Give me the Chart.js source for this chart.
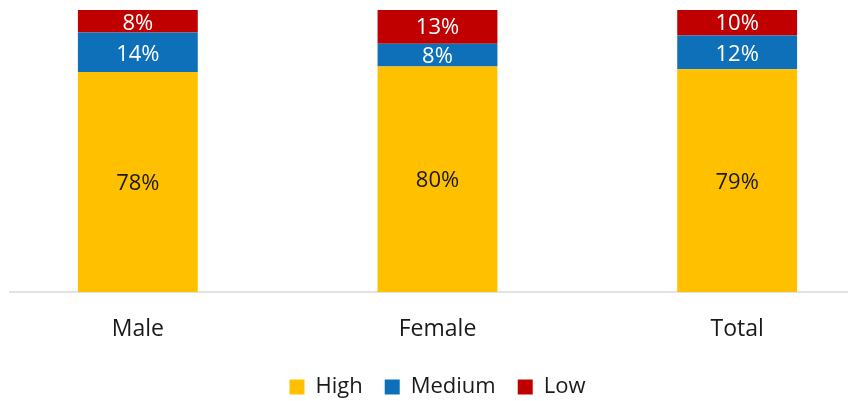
<!DOCTYPE html>
<html>
<head>
<meta charset="utf-8">
<script src="https://cdn.jsdelivr.net/npm/chart.js@4"></script>
<style>
  html, body { margin: 0; padding: 0; background: #fff; overflow: hidden; }
  #outer { position: relative; width: 857px; height: 401px; overflow: hidden; }
  #wrap { position: absolute; left: -12px; top: 0; width: 899px; height: 408px; }
</style>
</head>
<body>
<div id="outer"><div id="wrap"><canvas id="chart"></canvas></div></div>
<script>
//Chart data
const categories = ["Male", "Female", "Total"];
const highValues = [78, 80, 79];
const mediumValues = [14, 8, 12];
const lowValues = [8, 13, 10];

//Colors
const highColor = "#FFC000";
const mediumColor = "#0E70B8";
const lowColor = "#C00000";

//Draws the percent labels in the middle of each bar segment
const valueLabels = {
  id: "valueLabels",
  afterDatasetsDraw(chart) {
    const ctx = chart.ctx;
    ctx.save();
    ctx.font = "22px 'Open Sans'";
    ctx.textAlign = "center";
    ctx.textBaseline = "middle";
    chart.data.datasets.forEach((ds, i) => {
      chart.getDatasetMeta(i).data.forEach((bar, j) => {
        ctx.fillStyle = ds.labelColor;
        ctx.fillText(ds.data[j] + "%", bar.x, (bar.y + bar.base) / 2 + 2);
      });
    });
    ctx.restore();
  },
};

//Draws the category axis line (canvas is shifted 12px left)
const baseLine = {
  id: "baseLine",
  beforeDatasetsDraw(chart) {
    const ctx = chart.ctx;
    const y = chart.scales.y.getPixelForValue(0);
    ctx.save();
    ctx.strokeStyle = "#d9d9d9";
    ctx.lineWidth = 1.5;
    ctx.beginPath();
    ctx.moveTo(21, y);
    ctx.lineTo(860, y);
    ctx.stroke();
    ctx.restore();
  },
};

const chartData = {
  labels: categories,
  datasets: [
    { label: "High", data: highValues, backgroundColor: highColor, labelColor: "#1a1a1a" },
    { label: "Medium", data: mediumValues, backgroundColor: mediumColor, labelColor: "#ffffff" },
    { label: "Low", data: lowValues, backgroundColor: lowColor, labelColor: "#ffffff" },
  ],
};

const chartConfig = {
  type: "bar",
  data: chartData,
  options: {
    responsive: true,
    maintainAspectRatio: false,
    animation: false,
    layout: { padding: { top: 10, left: 0, right: 0, bottom: 0 } },
    datasets: { bar: { barPercentage: 0.8, categoryPercentage: 0.5 } },
    scales: {
      x: {
        stacked: true,
        grid: { display: false, drawTicks: false },
        border: { display: false },
        ticks: { color: "#1a1a1a", font: { family: "'Open Sans'", size: 23 }, padding: 24 },
        afterFit(scale) {
          scale.height = 62;
        },
      },
      y: { stacked: true, display: false, min: 0, max: 100 },
    },
    plugins: {
      tooltip: { enabled: false },
      legend: {
        position: "bottom",
        labels: {
          color: "#1a1a1a",
          font: { family: "'Open Sans'", size: 22 },
          boxWidth: 15,
          boxHeight: 15,
          padding: 22,
        },
      },
    },
  },
  plugins: [valueLabels, baseLine],
};

new Chart(document.getElementById("chart"), chartConfig);
</script>
</body>
</html>
